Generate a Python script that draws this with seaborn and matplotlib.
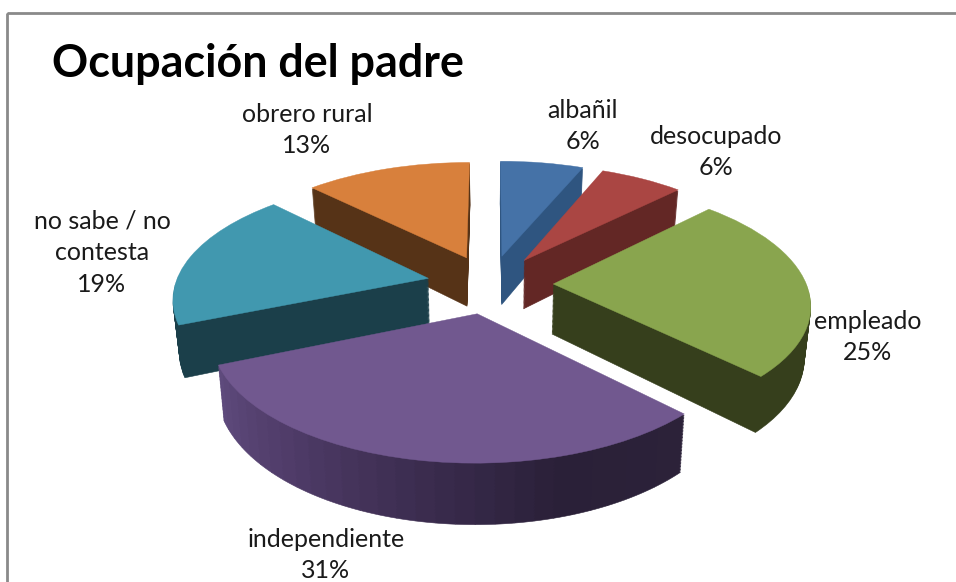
#!/usr/bin/env python3
import numpy as np
import matplotlib
matplotlib.use("Agg")
import matplotlib.pyplot as plt
import matplotlib.transforms as mtransforms
from matplotlib.patches import Rectangle
import seaborn as sns

# Datos
categorias = ["albañil", "desocupado", "empleado", "independiente",
              "no sabe / no\ncontesta", "obrero rural"]
valores = [6.25, 6.25, 25, 31.25, 18.75, 12.5]
porcentajes = ["6%", "6%", "25%", "31%", "19%", "13%"]
titulo = "Ocupación del padre"

sns.set_theme(style="white")
plt.rcParams["font.family"] = ["Lato", "DejaVu Sans"]

tapas = sns.color_palette(["#4572A7", "#AA4643", "#89A54E", "#71588F", "#4198AF", "#D8803C"])
lados = sns.color_palette(["#2F5580", "#632725", "#363F1C", "#5C4478", "#1B3F4A", "#563317"])
degradado = sns.blend_palette(["#2C2239", "#2A2038", "#3C2D50", "#4F3B68", "#5E4A7C"], 30)
orden = [1, 3, 5, 6, 4, 2]  # que porcion tapa a cual
separacion = 0.25


# Perspectiva del pie: de coordenadas del pie (z = profundidad) a pixeles
class Perspectiva(mtransforms.Transform):
    input_dims = 2
    output_dims = 2

    def __init__(self, z):
        super().__init__()
        self.z = z

    def transform_non_affine(self, values):
        x, y = np.asarray(values).T
        w = 1 + 0.15 * y
        sx = 490 + 253 * x / w * (1 - 0.02 * self.z)
        sy = 284 - 117 * y / w + 50 * self.z / w
        return np.column_stack([sx, sy])


fig, ax = plt.subplots(figsize=(9.56, 5.82), dpi=100)
fig.subplots_adjust(0, 0, 1, 1)

# Centro de cada porcion separada
acum = np.cumsum([0] + valores)
medios = np.deg2rad(90 - 3.6 * (acum[:-1] + acum[1:]) / 2)
centros = [(separacion * np.cos(m), separacion * np.sin(m)) for m in medios]

# La pared de independiente se parte en tiras para hacer el degradado
i_ind = categorias.index("independiente")
partes, duenos, colores_lado = [], [], []
for i, v in enumerate(valores):
    if i == i_ind:
        partes += [v / len(degradado)] * len(degradado)
        duenos += [i] * len(degradado)
        colores_lado += list(degradado)
    else:
        partes.append(v)
        duenos.append(i)
        colores_lado.append(lados[i])

for z in np.linspace(1, 0.03, 40):
    wedges, _ = ax.pie(partes, colors=colores_lado, startangle=90, counterclock=False)
    for w, d in zip(wedges, duenos):
        w.set_edgecolor(w.get_facecolor())
        w.set_linewidth(0.4)
        w.set_center(centros[d])
        w.set_transform(Perspectiva(z) + ax.transData)
        w.set_zorder(orden[d])

wedges, _ = ax.pie(valores, colors=tapas, startangle=90, counterclock=False)
for i, w in enumerate(wedges):
    w.set_edgecolor(w.get_facecolor())
    w.set_linewidth(0.3)
    w.set_center(centros[i])
    w.set_transform(Perspectiva(0) + ax.transData)
    w.set_zorder(orden[i])

ax.set_aspect("auto")
ax.set_xlim(0, 956)
ax.set_ylim(582, 0)
ax.set_axis_off()

# Marco de la captura
ax.add_patch(Rectangle((7, 13), 1000, 700, fill=False, edgecolor="#8A8A8A", linewidth=2, zorder=8))

ax.text(52, 77, titulo, fontsize=32.3, fontweight="bold", color="black", ha="left",
        va="baseline", zorder=10)

pos_etiquetas = [(583, 126), (716, 152), (868, 337), (326, 555), (102, 253), (307, 130)]
for cat, p, (px, py) in zip(categorias, porcentajes, pos_etiquetas):
    ax.text(px, py, f"{cat}\n{p}", fontsize=18, color="#1a1a1a", ha="center", va="center",
            linespacing=1.45, zorder=10, multialignment="center")

fig.savefig("out.png", dpi=100)
